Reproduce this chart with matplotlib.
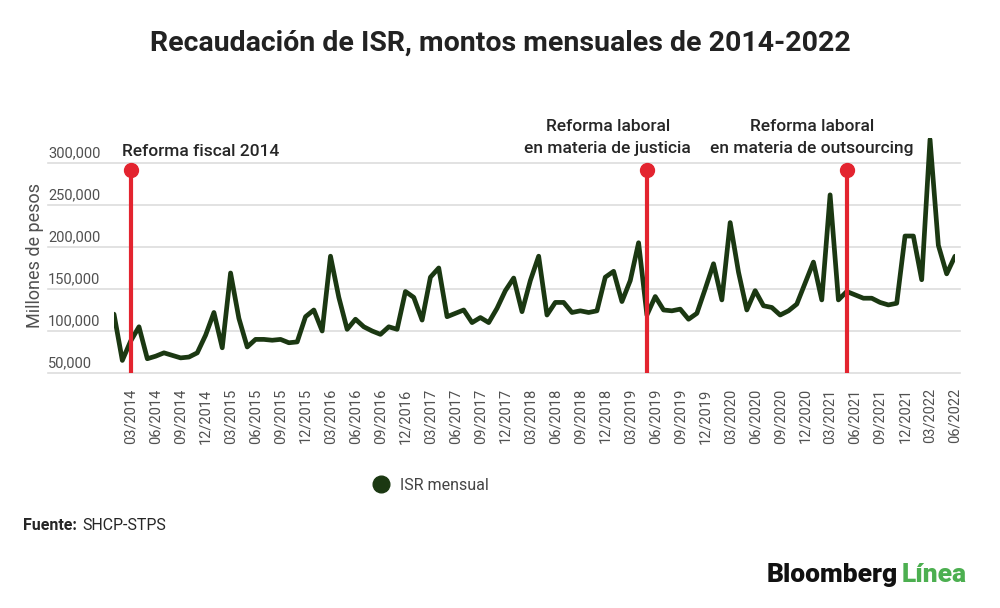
import pandas as pd
import matplotlib.pyplot as plt
from matplotlib.lines import Line2D
from matplotlib.transforms import ScaledTranslation

# Datos: ISR mensual (millones de pesos), 01/2014 - 06/2022
meses = pd.date_range('2014-01-01', periods=102, freq='MS')
isr_mensual = [
    120000, 65000, 88000, 105000, 67000, 70000, 74000, 71000, 68000, 69000,   # 2014
    74000, 95000,
    122000, 80000, 169000, 115000, 81000, 90000, 90000, 89000, 90000, 86000,  # 2015
    87000, 117000,
    125000, 100000, 189000, 140000, 102000, 114000, 105000, 100000, 96000,    # 2016
    105000, 102000, 147000,
    140000, 113000, 164000, 175000, 117000, 121000, 125000, 110000, 116000,   # 2017
    110000, 127000, 148000,
    163000, 123000, 160000, 189000, 119000, 134000, 134000, 122000, 124000,   # 2018
    122000, 124000, 164000,
    171000, 135000, 160000, 205000, 119000, 141000, 125000, 124000, 126000,   # 2019
    114000, 121000, 150000,
    180000, 137000, 229000, 170000, 125000, 148000, 130000, 128000, 119000,   # 2020
    124000, 132000, 157000,
    182000, 137000, 262000, 137000, 147000, 143000, 139000, 139000, 134000,   # 2021
    131000, 133000, 213000,
    213000, 161000, 328000, 202000, 168000, 189000,                           # 2022
]

# Reformas (indice de mes) y sus etiquetas
reformas_idx = [2, 64, 88]
reformas_txt = ['Reforma fiscal 2014',
                'Reforma laboral\nen materia de justicia',
                'Reforma laboral\nen materia de outsourcing']

y_ticks = [50000, 100000, 150000, 200000, 250000, 300000]
x_ticks = list(range(2, 102, 3))
x_labels = [meses[i].strftime('%m/%Y') for i in x_ticks]

VERDE = '#1b3812'
ROJO = '#e3242f'
GRIS = '#505050'
TEXTO = '#262626'

plt.rcParams['font.family'] = ['Roboto', 'DejaVu Sans']

fig = plt.figure(figsize=(10, 6.08), dpi=100)
ax = fig.add_axes([0.114, 0.3865, 0.841, 0.387])

x = list(range(len(isr_mensual)))
ax.plot(x, isr_mensual, color=VERDE, lw=3.4, solid_joinstyle='round',
        solid_capstyle='round', zorder=3)

ax.set_xlim(0, 101)
ax.set_ylim(50000, 330000)

# lineas de cuadricula que se extienden bajo las etiquetas
for v in y_ticks:
    ax.axhline(v, xmin=(48 - 114) / 841, xmax=1.006, color='#dddddd',
               lw=1.2, clip_on=False, zorder=1)
    ax.text(-0.0785, v, f'{v:,}', transform=ax.get_yaxis_transform()
            + ScaledTranslation(0, 2 / 72, fig.dpi_scale_trans),
            ha='left', va='bottom', fontsize=10.5, color=GRIS)

ax.set_yticks([])
ax.set_xticks(x_ticks)
ax.set_xticklabels(x_labels, rotation=90, fontsize=10.5, color=GRIS)
ax.tick_params(axis='x', length=0, pad=11)
for s in ax.spines.values():
    s.set_visible(False)

ax.set_ylabel('Millones de pesos', fontsize=13, color=GRIS)
ax.yaxis.set_label_coords(-0.083, 0.5)

# reformas
top_val = 291000
ax.vlines(reformas_idx, 50000, top_val, color=ROJO, lw=3, zorder=4)
ax.plot(reformas_idx, [top_val] * len(reformas_idx), 'o', color=ROJO,
        ms=10, zorder=5, clip_on=False)

ax.text(1, 314000, reformas_txt[0], ha='left', va='center', fontsize=12.5,
        fontweight='medium', color=TEXTO)
ax.text(59.3, 330000, reformas_txt[1], ha='center', va='center',
        fontsize=12.5, fontweight='medium', color=TEXTO, linespacing=1.55)
ax.text(83.8, 330000, reformas_txt[2], ha='center', va='center',
        fontsize=12.5, fontweight='medium', color=TEXTO, linespacing=1.55)

fig.text(0.5, 0.929, 'Recaudación de ISR, montos mensuales de 2014-2022',
         ha='center', va='center', fontsize=20.5, fontweight='bold',
         color='#222222')

handle = Line2D([], [], marker='o', ls='none', color=VERDE, ms=12)
fig.legend([handle], ['ISR mensual'], loc='center',
           bbox_to_anchor=(0.427, 1 - 485 / 608), frameon=False,
           fontsize=11.5, labelcolor='#444444', handletextpad=0.2)

fig.text(0.023, 1 - 526 / 608, 'Fuente:', ha='left', va='center',
         fontsize=11.5, fontweight='bold', color=TEXTO)
fig.text(0.082, 1 - 526 / 608, 'SHCP-STPS', ha='left', va='center',
         fontsize=11.5, color=TEXTO)

fig.text(0.767, 1 - 575 / 608, 'Bloomberg', ha='left', va='center',
         fontsize=19, fontweight='black', color='#111111')
fig.text(0.902, 1 - 575 / 608, 'Línea', ha='left', va='center',
         fontsize=19, fontweight='black', color='#4caf50')

fig.savefig('out.png', dpi=100, facecolor='white')
